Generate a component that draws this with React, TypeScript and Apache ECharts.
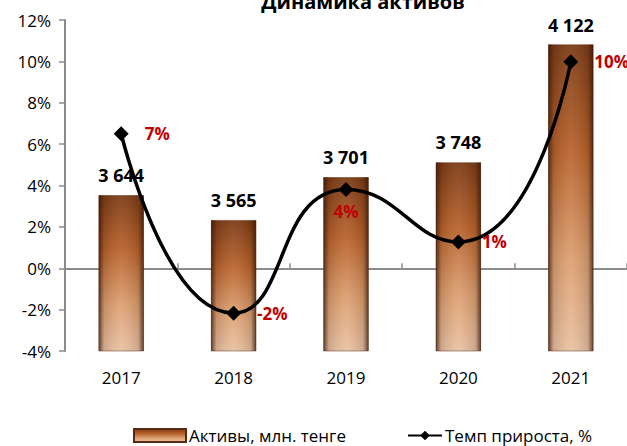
import React, { useEffect, useRef } from "react";
import * as echarts from "echarts";

const years = ["2017", "2018", "2019", "2020", "2021"];
const assets = [3644, 3565, 3701, 3748, 4122];
const growth = [6.5, -2.17, 3.81, 1.27, 9.98];
const growthLabels = ["7%", "-2%", "4%", "1%", "10%"];
const growthLabelPos = ["right", "right", "bottom", "right", "right"];
const pctTicks = { min: -4, max: 12, interval: 2 };

const FONT = "'Open Sans', 'Noto Sans', sans-serif";

export default function App() {
  const ref = useRef<HTMLDivElement>(null);
  useEffect(() => {
    if (!ref.current) return;
    const chart = echarts.init(ref.current, null, { renderer: "svg" });
    const barFill = new echarts.graphic.LinearGradient(0, 0, 0, 1, [
      { offset: 0, color: "#7a3a16" },
      { offset: 0.35, color: "#b8622c" },
      { offset: 0.7, color: "#dca072" },
      { offset: 1, color: "#e9c3a6" },
    ]);
    const sideShade = new echarts.graphic.LinearGradient(0, 0, 1, 0, [
      { offset: 0, color: "rgba(50,22,6,0.75)" },
      { offset: 0.12, color: "rgba(50,22,6,0.15)" },
      { offset: 0.5, color: "rgba(255,230,200,0.08)" },
      { offset: 0.88, color: "rgba(50,22,6,0.15)" },
      { offset: 1, color: "rgba(50,22,6,0.75)" },
    ]);
    const legendText = { fontFamily: FONT, fontSize: 17, color: "#000", padding: [0, 0, 0, -2] };
    chart.setOption({
      animation: false,
      title: {
        text: "Динамика активов",
        left: 358,
        textAlign: "center",
        top: -14,
        textStyle: { fontFamily: FONT, fontSize: 20, fontWeight: "bold", color: "#000" },
      },
      legend: [
        {
          bottom: -3,
          left: 128,
          itemWidth: 52,
          itemHeight: 13,
          data: [{ name: "Активы, млн. тенге", icon: "rect" }],
          textStyle: legendText,
        },
        {
          bottom: -3,
          left: 402,
          itemWidth: 34,
          itemHeight: 12,
          data: [{ name: "Темп прироста, %" }],
          textStyle: legendText,
        },
      ],
      grid: { left: 65, right: -4, top: 20, bottom: 95 },
      xAxis: [
        {
          type: "category",
          data: years,
          position: "bottom",
          axisLine: { show: false, onZero: false },
          axisTick: { show: false },
          axisLabel: { fontFamily: FONT, fontSize: 17, color: "#000", margin: 18 },
        },
        {
          type: "category",
          data: years,
          axisLine: { show: true, onZero: true, onZeroAxisIndex: 0, lineStyle: { color: "#8c8c8c", width: 2 } },
          axisTick: { show: true, length: 5, lineStyle: { color: "#8c8c8c", width: 1.5 } },
          axisLabel: { show: false },
        },
      ],
      yAxis: [
        {
          type: "value",
          min: pctTicks.min,
          max: pctTicks.max,
          interval: pctTicks.interval,
          axisLine: { show: true, lineStyle: { color: "#8c8c8c", width: 2 } },
          axisTick: { show: true, length: 6, lineStyle: { color: "#8c8c8c", width: 1.5 } },
          splitLine: { show: false },
          axisLabel: { formatter: "{value}%", fontFamily: FONT, fontSize: 17, color: "#000", margin: 14 },
        },
        {
          type: "value",
          min: 3150,
          max: 4200,
          show: false,
          splitLine: { show: false },
        },
      ],
      series: [
        {
          name: "Активы, млн. тенге",
          type: "bar",
          yAxisIndex: 1,
          barWidth: 45,
          data: assets,
          itemStyle: { color: barFill, borderColor: "#5a2a10", borderWidth: 0.5 },
          label: {
            show: true,
            position: "top",
            distance: 11,
            formatter: (p: any) => String(p.value).replace(/\B(?=(\d{3})+(?!\d))/g, " "),
            fontFamily: FONT,
            fontSize: 18,
            fontWeight: "bold",
            color: "#000",
          },
          z: 2,
        },
        {
          name: "shade",
          type: "bar",
          yAxisIndex: 1,
          barWidth: 45,
          barGap: "-100%",
          data: assets,
          itemStyle: { color: sideShade },
          silent: true,
          z: 3,
        },
        {
          name: "Темп прироста, %",
          type: "line",
          yAxisIndex: 0,
          smooth: 0.55,
          data: growth.map((v, i) => ({
            value: v,
            label: {
              position: growthLabelPos[i],
              distance: growthLabelPos[i] === "bottom" ? 6 : 16,
            },
          })),
          symbol: "diamond",
          symbolSize: 15,
          lineStyle: { color: "#000", width: 3.5 },
          itemStyle: { color: "#000" },
          label: {
            show: true,
            formatter: (p: any) => growthLabels[p.dataIndex],
            fontFamily: FONT,
            fontSize: 17,
            fontWeight: "bold",
            color: "#c00000",
          },
          z: 5,
        },
      ],
    });
    return () => chart.dispose();
  }, []);
  return <div ref={ref} style={{ width: 627, height: 446, position: "absolute", left: 0, top: 0 }} />;
}
